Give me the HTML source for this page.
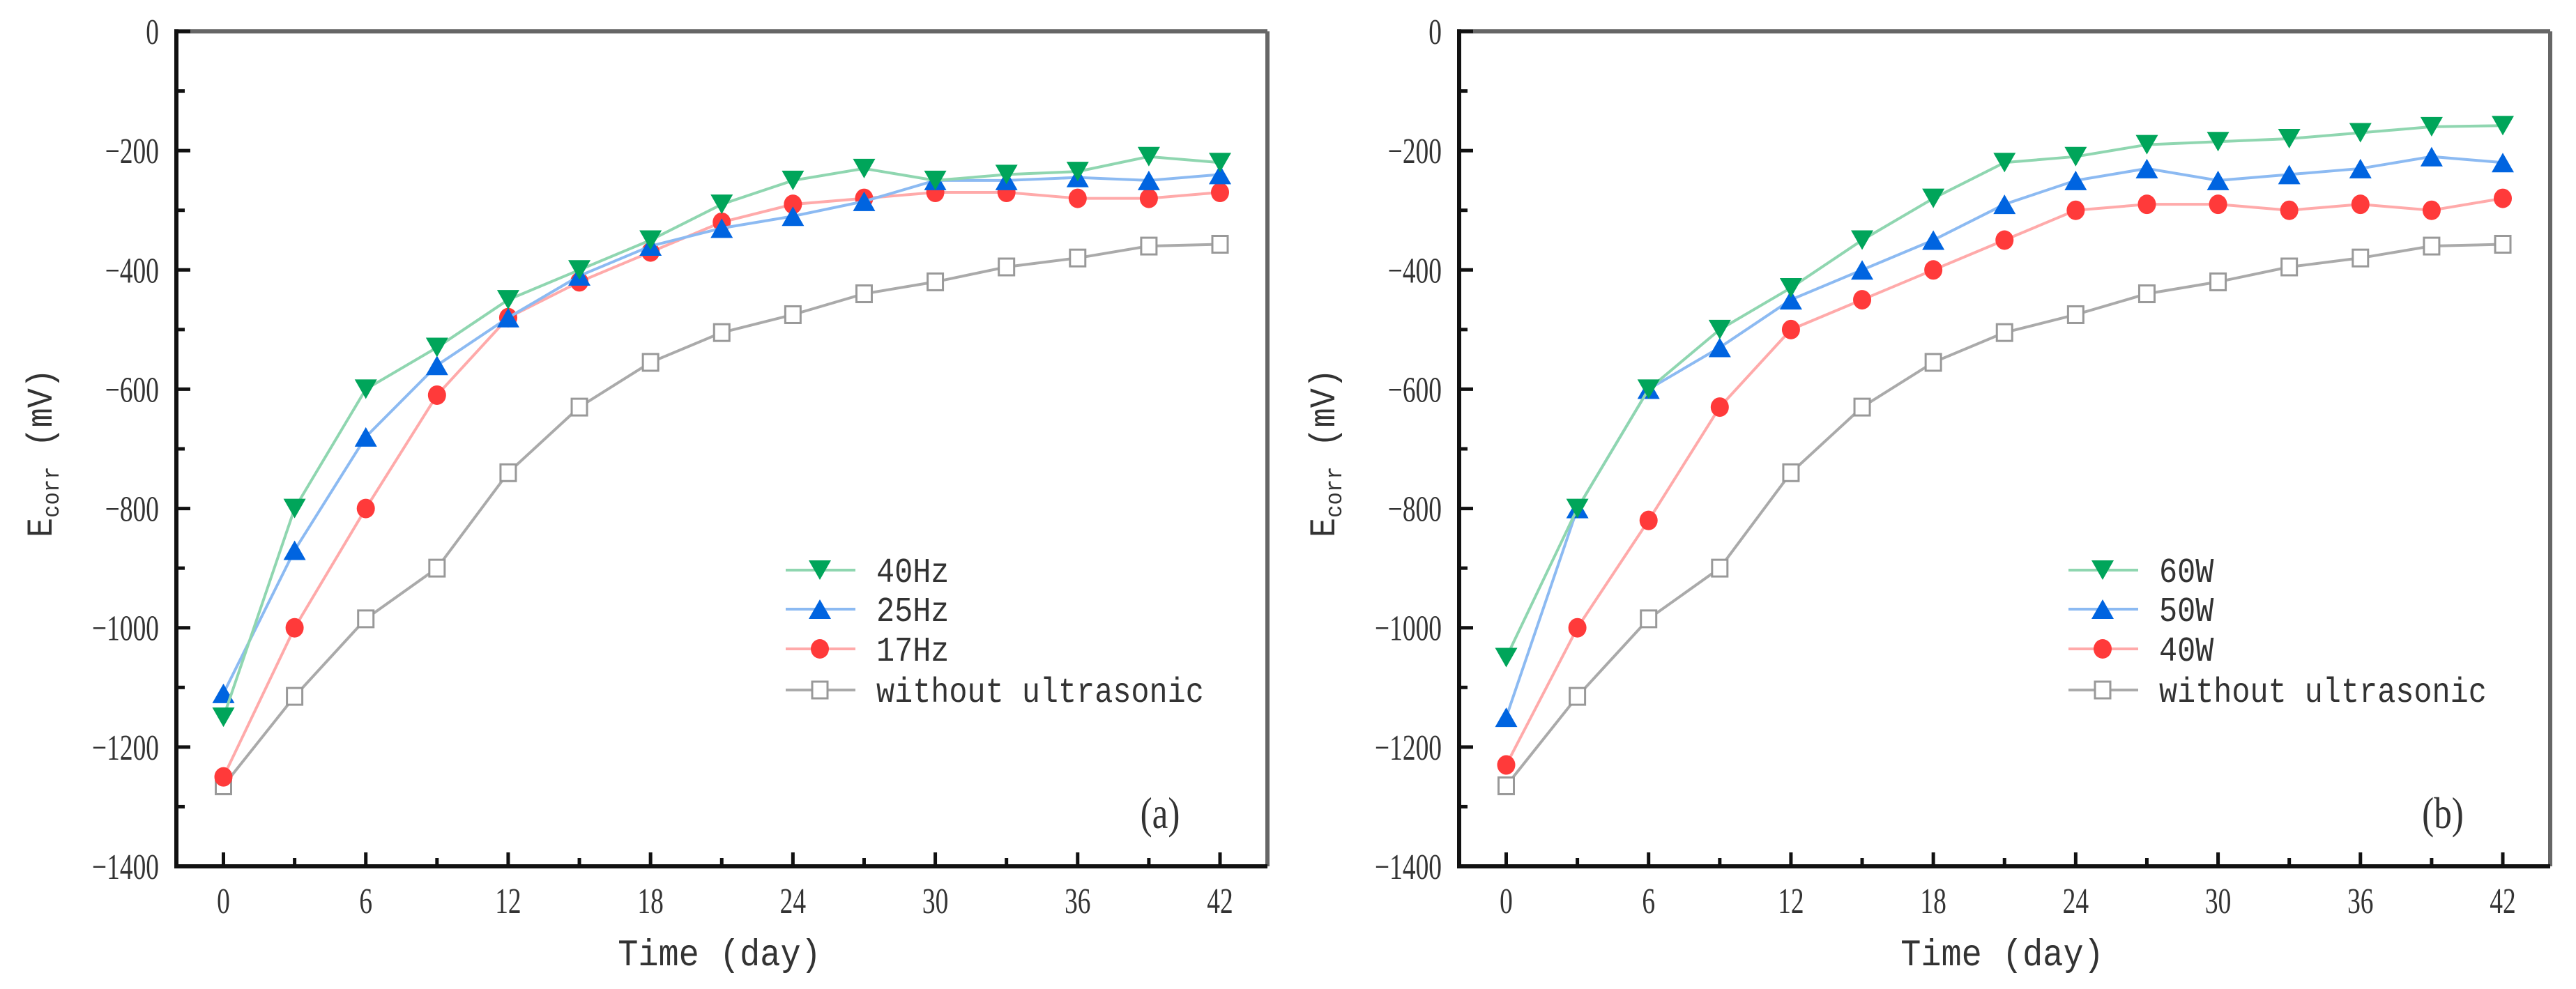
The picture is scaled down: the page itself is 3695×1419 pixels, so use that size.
<!DOCTYPE html>
<html><head><meta charset="utf-8"><style>
html,body{margin:0;padding:0;background:#fff;}
svg{display:block;}
text{font-family:"Liberation Serif","Noto Serif CJK SC",serif;fill:#333;}
text.mono{font-family:"Liberation Mono","Noto Sans CJK SC",monospace;}
</style></head>
<body>
<svg id="chart" width="3695" height="1419" viewBox="0 0 3695 1419" xmlns="http://www.w3.org/2000/svg"></svg>
<script>
const days = [0,3,6,9,12,15,18,21,24,27,30,33,36,39,42];
const xTicks = [0,6,12,18,24,30,36,42];
const yTicks = [0,-200,-400,-600,-800,-1000,-1200,-1400];
const a40Hz = [-1150,-800,-600,-530,-450,-400,-350,-290,-250,-230,-250,-240,-235,-210,-220];
const a25Hz = [-1110,-870,-680,-560,-480,-410,-360,-330,-310,-285,-250,-250,-245,-250,-240];
const a17Hz = [-1250,-1000,-800,-610,-480,-420,-370,-320,-290,-280,-270,-270,-280,-280,-270];
const aNone = [-1265,-1115,-985,-900,-740,-630,-555,-505,-475,-440,-420,-395,-380,-360,-357];
const b60W = [-1050,-800,-600,-500,-430,-350,-280,-220,-210,-190,-185,-180,-170,-160,-158];
const b50W = [-1150,-800,-600,-530,-450,-400,-350,-290,-250,-230,-250,-240,-230,-210,-220];
const b40W = [-1230,-1000,-820,-630,-500,-450,-400,-350,-300,-290,-290,-300,-290,-300,-280];
const bNone = [-1265,-1115,-985,-900,-740,-630,-555,-505,-475,-440,-420,-395,-380,-360,-357];
const labelsA = ["40Hz","25Hz","17Hz","without ultrasonic"];
const labelsB = ["60W","50W","40W","without ultrasonic"];

const NS="http://www.w3.org/2000/svg";
const svg=document.getElementById('chart');
function mk(tag,attrs,parent){const e=document.createElementNS(NS,tag);for(const k in attrs)e.setAttribute(k,attrs[k]);(parent||svg).appendChild(e);return e;}

const styles=[
 {line:"#8fd6b0",fill:"#00a55a",shape:"down"},
 {line:"#8cbaf2",fill:"#0064e0",shape:"up"},
 {line:"#ffaaaa",fill:"#ff3a3a",shape:"circle"},
 {line:"#aaaaaa",fill:"none",shape:"square"}
];

function marker(g,shape,cx,cy,fill,name){
  let e;
  if(shape==="down") e=mk('polygon',{points:`${cx-16},${cy-14} ${cx+16},${cy-14} ${cx},${cy+14}`,fill:fill},g);
  else if(shape==="up") e=mk('polygon',{points:`${cx-16},${cy+14} ${cx+16},${cy+14} ${cx},${cy-14}`,fill:fill},g);
  else if(shape==="circle") e=mk('ellipse',{cx:cx,cy:cy,rx:13,ry:14,fill:fill},g);
  else e=mk('rect',{x:cx-11,y:cy-12,width:22,height:24,fill:"#fff",stroke:"#999","stroke-width":3},g);
  
  
}

function panel(off,series,labels,tag,id){
  const L=253+off,R=1818+off,T=45,B=1243;
  const x=d=>320.5+off+(d/42)*(1750-320.5);
  const y=v=>T+(v/-1400)*(B-T);
  const g=mk('g',{});
  
  
  mk('line',{x1:L,y1:T,x2:R,y2:T,stroke:"#666","stroke-width":6},g);
  mk('line',{x1:R,y1:T,x2:R,y2:B,stroke:"#666","stroke-width":6},g);
  const ya=mk('line',{x1:L,y1:T-3,x2:L,y2:B+3,stroke:"#111","stroke-width":6},g);
  
  
  const xa=mk('line',{x1:L-3,y1:B,x2:R,y2:B,stroke:"#111","stroke-width":6},g);
  
  
  for(let d=0;d<=42;d+=3){
    const major=d%6===0;
    mk('line',{x1:x(d),y1:B,x2:x(d),y2:B-(major?20:12),stroke:"#111","stroke-width":5},g);
  }
  xTicks.forEach(t=>{
    const tx=mk('text',{x:x(t),y:1310,"font-size":52,"text-anchor":"middle",transform:`translate(${x(t)},0) scale(0.72,1) translate(${-x(t)},0)`},g);
    tx.textContent=t;
    
    
  });
  for(let v=0;v>=-1400;v-=100){
    const major=v%200===0;
    mk('line',{x1:L,y1:y(v),x2:L+(major?20:12),y2:y(v),stroke:"#111","stroke-width":5},g);
  }
  yTicks.forEach(t=>{
    const rx=L-25;
    const tx=mk('text',{x:rx,y:y(t)+18,"font-size":52,"text-anchor":"end",transform:`translate(${rx},0) scale(0.72,1) translate(${-rx},0)`},g);
    tx.textContent=t===0?"0":"\u2212"+Math.abs(t);
    
    
  });
  const xt=mk('text',{x:1032+off,y:1385,"font-size":54,"text-anchor":"middle","class":"mono",transform:`translate(${1032+off},0) scale(0.9,1) translate(${-(1032+off)},0)`},g);
  xt.textContent="Time (day)";
  
  
  const yt=mk('text',{x:0,y:0,"font-size":52,"text-anchor":"middle","class":"mono",transform:`translate(${74+off},650) rotate(-90) scale(0.9,1)`},g);
  yt.innerHTML='E<tspan font-size="34" dy="10">corr</tspan><tspan dy="-10"> (mV)</tspan>';
  
  
  const order=[3,2,1,0];
  order.forEach(i=>{
    const s=series[i],st=styles[i];
    const sg=mk('g',{},g);
    
    
    const pts=s.map((v,j)=>`${x(days[j])},${y(v)}`).join(' ');
    mk('polyline',{points:pts,fill:"none",stroke:st.line,"stroke-width":4},sg);
    s.forEach((v,j)=>marker(sg,st.shape,x(days[j]),y(v),st.fill,'point'));
  });
  const lg=mk('g',{},g);
  
  
  const rows=[818,874,931,990];
  labels.forEach((lab,i)=>{
    const st=styles[i];
    const eg=mk('g',{},lg);
    
    
    mk('line',{x1:1127+off,y1:rows[i],x2:1227+off,y2:rows[i],stroke:st.line,"stroke-width":4},eg);
    marker(eg,st.shape,1176+off,rows[i],st.fill,'legend-marker');
    const tx=mk('text',{x:1257+off,y:rows[i]+17,"font-size":50,"class":"mono",transform:`translate(${1257+off},0) scale(0.87,1) translate(${-(1257+off)},0)`},eg);
    tx.textContent=lab;
  });
  const pl=mk('text',{x:1664+off,y:1188,"font-size":64,"text-anchor":"middle",transform:`translate(${1664+off},0) scale(0.8,1) translate(${-(1664+off)},0)`},g);
  pl.textContent=tag;
  
  
}
panel(0,[a40Hz,a25Hz,a17Hz,aNone],labelsA,"(a)","a");
panel(1840,[b60W,b50W,b40W,bNone],labelsB,"(b)","b");
</script>
</body></html>
